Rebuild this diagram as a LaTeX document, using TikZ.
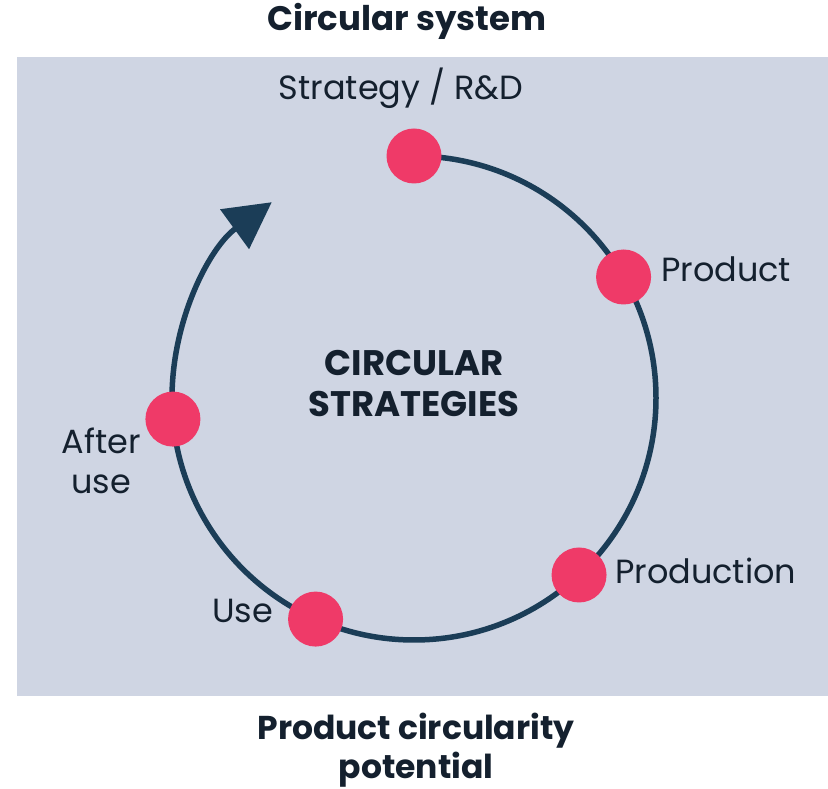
\documentclass[tikz,border=0pt]{standalone}
\usepackage{fontspec}
\setmainfont{Poppins}
\usepackage{tikz}
\usetikzlibrary{arrows.meta, positioning}
\usepackage{xcolor}
\definecolor{panelgray}{HTML}{CFD5E3}
\definecolor{dotpink}{HTML}{EF3A68}
\definecolor{ringnavy}{HTML}{1B3D57}
\definecolor{textnavy}{HTML}{14202E}

\begin{document}
\begin{tikzpicture}[x=1pt, y=1pt,
    stage/.style={circle, fill=dotpink, minimum size=55pt, inner sep=0pt},
    ring/.style={draw=ringnavy, line width=5.5pt},
    label/.style={text=textnavy, inner sep=0pt, font=\fontsize{33.5}{40}\selectfont},
    heading/.style={text=textnavy, inner sep=0pt, align=center, font=\fontsize{35.5}{41}\selectfont\bfseries}]
    \useasboundingbox (0,0) rectangle (828,789);

    % Fundo cinza
    \fill[panelgray] (17,93) rectangle (828,732);

    % Anel com seta
    \begin{scope}[shift={(414,391)}]
        \draw[ring, -{Triangle[length=46pt, width=48pt]}] (90:242) arc[start angle=90, end angle=-234, radius=242];
        \node[stage] (rd) at (90:242) {};
        \node[stage] (pdt) at (30:242) {};
        \node[stage] (prd) at (-47:242) {};
        \node[stage] (use) at (246:242) {};
        \node[stage] (after) at (185:242) {};
    \end{scope}

    % Etapas
    \node[label, anchor=base] (rdtxt) at (401,689) {Strategy / R\&D};
    \node[label, anchor=base west] (pdttxt) at (661,507) {Product};
    \node[label, anchor=base west] (prdtxt) at (615,205) {Production};
    \node[label, anchor=base west] (usetxt) at (212,166) {Use};
    \node[label, align=center] (aftertxt) at (101,328) {After\\use};

    % Títulos
    \node[heading] (center) at (414,405) {CIRCULAR\\STRATEGIES};
    \node[heading, anchor=base, font=\fontsize{34}{40}\selectfont\bfseries] (top) at (407,758) {Circular system};
    \node[heading, font=\fontsize{33}{39}\selectfont\bfseries] (bottom) at (416,39) {Product circularity\\potential};
\end{tikzpicture}
\end{document}
